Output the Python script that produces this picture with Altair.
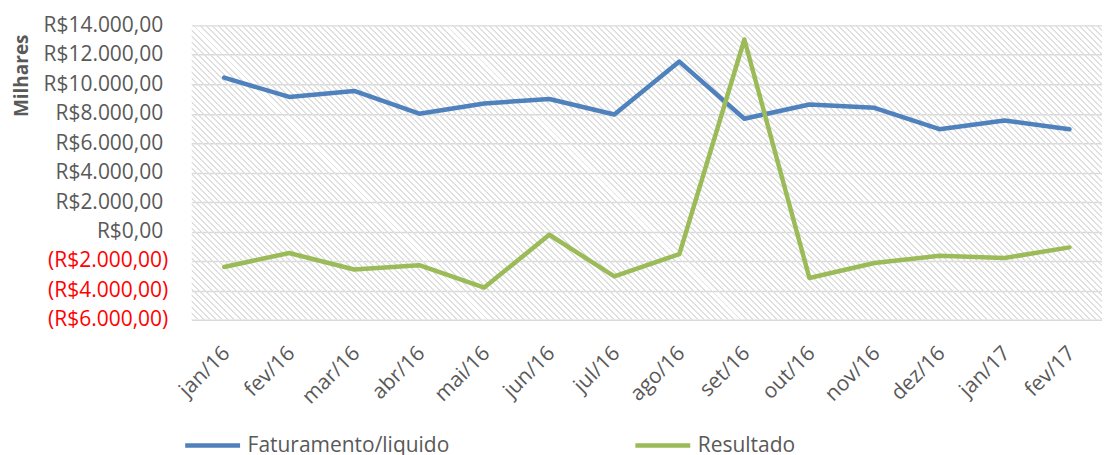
import altair as alt
import pandas as pd

months = ["jan/16", "fev/16", "mar/16", "abr/16", "mai/16", "jun/16", "jul/16",
          "ago/16", "set/16", "out/16", "nov/16", "dez/16", "jan/17", "fev/17"]
faturamento = [10450, 9140, 9550, 8000, 8700, 9000, 7950,
               11540, 7660, 8630, 8400, 6950, 7540, 6950]
resultado = [-2410, -1460, -2580, -2290, -3810, -220, -3050,
             -1530, 13040, -3160, -2140, -1650, -1800, -1080]
series_names = ["Faturamento/liquido", "Resultado"]
series_colors = ["#4F81BD", "#9BBB59"]
y_ticks = [-6000, -4000, -2000, 0, 2000, 4000, 6000, 8000, 10000, 12000, 14000]

rows = []
for i, m in enumerate(months):
    rows.append({"mes": m, "serie": series_names[0], "valor": faturamento[i]})
    rows.append({"mes": m, "serie": series_names[1], "valor": resultado[i]})
df = pd.DataFrame(rows)

W, H = 912, 295
FONT = "Open Sans"
GRAY = "#595959"

# diagonal hatch background for the plot area (decoration only)
periods = 200
stops = []
clear = "rgba(255,255,255,0)"
line_c = "#e0e0e0"
for k in range(periods):
    a = k / periods
    b = (k + 0.33) / periods
    c = (k + 1) / periods
    stops.append(alt.GradientStop(offset=a, color=line_c))
    stops.append(alt.GradientStop(offset=b, color=line_c))
    stops.append(alt.GradientStop(offset=b, color=clear))
    stops.append(alt.GradientStop(offset=min(c, 1.0), color=clear))
k_ = (W + H) / (W * W + H * H)
hatch = alt.LinearGradient(gradient="linear", stops=stops,
                           x1=0, y1=1, x2=W * k_, y2=1 - H * k_)

label_expr = (
    "(datum.value < 0 ? '(R$' : 'R$') + "
    "replace(replace(replace(format(abs(datum.value), ',.2f'), ',', '#'), '.', ','), '#', '.') + "
    "(datum.value < 0 ? ')' : '')"
)

background = alt.Chart(alt.Data(values=[{"bg": 1}])).mark_rect(fill=hatch, strokeWidth=0).encode(
    opacity=alt.value(1)
)

lines = alt.Chart(df).mark_line(strokeWidth=4.5, strokeCap="round", strokeJoin="round").encode(
    x=alt.X("mes:N", sort=months, scale=alt.Scale(type="point", padding=0.5),
            axis=alt.Axis(title=None, labelAngle=-45, labelAlign="right", labelBaseline="middle",
                          labelFontSize=21, labelFont=FONT, labelColor=GRAY,
                          labelPadding=30, labelOffset=2, domain=False, ticks=False, grid=False)),
    y=alt.Y("valor:Q", scale=alt.Scale(domain=[-6000, 14000], nice=False, zero=False),
            axis=alt.Axis(title="Milhares", values=y_ticks, labelExpr=label_expr,
                          labelFontSize=21, labelFont=FONT,
                          labelColor=alt.condition("datum.value < 0", alt.value("#ff0000"), alt.value(GRAY)),
                          labelPadding=alt.condition("datum.value < 0", alt.value(24), alt.value(29)),
                          domain=False, ticks=False,
                          grid=True, gridColor="#d9d9d9", gridWidth=1.5,
                          titleFont=FONT, titleFontSize=19, titleFontWeight="bold", titleColor=GRAY,
                          titleAngle=-90, titleAlign="center", titleBaseline="middle",
                          titleX=-170, titleY=50)),
    color=alt.Color("serie:N", scale=alt.Scale(domain=series_names, range=series_colors),
                    legend=alt.Legend(title=None, orient="none", direction="horizontal",
                                      legendX=-9, legendY=391,
                                      symbolType="stroke", symbolSize=3025, symbolStrokeWidth=4.5,
                                      labelFont=FONT, labelFontSize=21, labelColor=GRAY,
                                      labelOffset=5, columnPadding=176, labelLimit=400)),
)

chart = alt.layer(background, lines).properties(
    width=W, height=H,
    autosize=alt.AutoSizeParams(type="none"),
    padding={"left": 184, "top": 17, "right": 0, "bottom": 135},
).configure_view(
    stroke=None
)

chart.save("out.html", embed_options={"renderer": "svg", "actions": False})
